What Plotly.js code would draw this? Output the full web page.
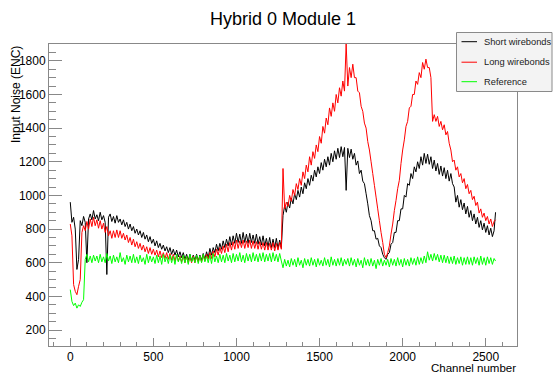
<!DOCTYPE html>
<html>
<head>
<meta charset="utf-8">
<script src="https://cdn.plot.ly/plotly-3.0.1.min.js"></script>
<style>html,body{margin:0;padding:0;background:#fff;}#plot{width:553px;height:374px;}</style>
</head>
<body>
<div id="plot"></div>
<script>
// Sampled every 10 channels (0..2550) plus last channel 2559
var lastChannel = 2559;
var shortWirebonds = [
  960,840,870,800,560,620,850,820,875,840,600,860,890,855,910,860,
  885,850,900,855,880,840,530,870,890,845,875,835,880,840,860,825,
  855,815,840,800,830,790,815,775,800,765,790,750,780,740,765,725,
  755,715,740,700,730,690,715,680,705,670,695,660,690,650,680,645,
  675,635,665,630,660,620,650,615,650,610,645,615,650,610,645,615,
  655,620,665,630,685,645,690,660,710,670,715,680,730,690,740,700,
  755,705,760,715,775,720,770,715,780,720,770,715,775,720,765,715,
  770,710,755,705,760,700,745,695,750,690,740,690,745,685,735,690,
  880,940,900,960,925,985,950,1010,975,1030,990,1050,1010,1075,1040,1100,
  1060,1120,1085,1150,1110,1170,1130,1195,1150,1215,1170,1230,1180,1250,1200,1265,
  1215,1280,1225,1290,1230,1285,1030,1280,1225,1275,1215,1250,1180,1205,1130,1150,
  1085,1070,1010,950,880,850,790,790,740,745,700,690,650,630,620,650,
  660,710,720,780,780,850,850,920,920,1000,990,1070,1060,1130,1100,1170,
  1140,1200,1160,1230,1180,1250,1190,1245,1185,1230,1160,1210,1145,1190,1125,1175,
  1115,1165,1100,1150,1085,1130,1070,1050,960,1000,930,975,915,955,890,935,
  870,910,850,890,830,870,810,850,795,835,780,820,765,805,755,790,
  900
];
var longWirebonds = [
  830,760,470,430,410,460,500,780,820,790,845,800,860,815,870,820,
  855,805,850,800,835,780,815,760,790,745,790,750,795,750,790,745,
  775,735,765,720,750,705,740,695,725,685,715,675,705,665,695,655,
  690,650,680,645,675,635,670,630,660,625,660,620,655,615,650,610,
  645,610,640,605,640,600,640,600,635,600,640,600,635,605,640,605,
  645,610,650,620,660,625,670,635,680,645,690,655,700,660,710,665,
  720,675,725,680,735,685,730,690,735,685,730,690,735,685,730,685,
  725,680,725,680,720,675,720,675,715,675,720,670,715,675,720,680,
  1160,920,960,935,1000,965,1035,1000,1070,1035,1100,1060,1140,1100,1180,1140,
  1230,1180,1260,1220,1300,1260,1350,1310,1410,1370,1460,1420,1520,1470,1550,1500,
  1600,1550,1640,1590,1680,1620,1900,1650,1760,1700,1780,1700,1700,1620,1610,1530,
  1500,1430,1400,1320,1270,1200,1130,1060,990,920,850,780,720,650,630,660,
  700,770,830,910,970,1040,1090,1190,1270,1330,1410,1440,1520,1530,1600,1600,
  1680,1660,1730,1700,1790,1750,1810,1760,1760,1700,1440,1480,1440,1470,1410,1440,
  1390,1420,1360,1380,1310,1270,1200,1210,1150,1170,1110,1130,1075,1100,1040,1065,
  1010,1030,975,995,940,960,895,920,870,895,850,875,830,860,815,845,
  855
];
var reference = [
  440,370,345,360,330,350,340,365,380,620,650,605,640,600,645,610,
  640,600,650,605,635,600,655,610,640,595,645,605,635,600,660,605,
  630,590,645,605,640,600,650,600,635,595,645,605,630,590,650,600,
  640,605,635,595,645,600,640,590,650,605,635,595,645,600,640,590,
  650,605,635,595,645,600,640,590,650,605,635,600,645,595,640,600,
  650,605,640,600,645,595,655,605,640,600,650,605,645,600,655,610,
  645,600,655,605,650,610,660,605,645,600,655,610,650,605,660,610,
  650,605,655,610,660,605,650,610,655,605,660,610,650,605,655,610,
  570,620,580,615,575,625,585,620,575,630,585,615,570,625,585,620,
  580,630,585,620,575,625,585,615,580,630,585,620,575,635,585,620,
  580,625,585,630,580,620,590,625,580,630,585,620,575,625,585,615,
  570,630,585,620,580,625,580,615,565,620,585,625,580,615,585,620,
  575,625,585,620,580,630,585,620,575,625,585,620,580,630,590,625,
  585,635,590,630,595,640,600,665,615,650,610,655,615,650,605,645,
  600,645,600,640,595,635,595,640,590,630,595,635,585,630,590,635,
  590,630,585,635,595,630,585,640,590,630,585,635,595,630,590,625,
  610
];
var seriesNames = ["Short wirebonds", "Long wirebonds", "Reference"];
var seriesColors = ["#000000", "#ff0000", "#00ff00"];

var channels = [];
for (var i = 0; i < shortWirebonds.length - 1; i++) channels.push(i * 10);
channels.push(lastChannel);

var allSeries = [shortWirebonds, longWirebonds, reference];
var traces = allSeries.map(function (vals, k) {
  return {
    x: channels, y: vals, type: "scatter", mode: "lines",
    name: seriesNames[k], line: {color: seriesColors[k], width: 1, simplify: false},
    hoverinfo: "skip", showlegend: false
  };
});

// pixel -> paper helpers (plot area: x 49..517, y 44..346)
function px(x) { return (x - 49) / 468; }
function py(y) { return (346 - y) / 302; }

var frameColor = "#888888";
var font = "Liberation Sans, Arial, Helvetica, sans-serif";

var shapes = [
  {type: "rect", xref: "paper", yref: "paper", x0: px(456.5), x1: px(552), y0: py(91.5), y1: py(32.5),
   fillcolor: "#f3f3f3", line: {color: "#8a8a8a", width: 1}, layer: "above"}
];
var annotations = [];
var legendY = [41.7, 62.2, 81.7];
for (var k = 0; k < 3; k++) {
  shapes.push({type: "line", xref: "paper", yref: "paper", x0: px(461.5), x1: px(477), y0: py(legendY[k]), y1: py(legendY[k]),
    line: {color: seriesColors[k], width: 1}, layer: "above"});
  annotations.push({xref: "paper", yref: "paper", x: px(481.5), y: py(legendY[k]), xanchor: "left", yanchor: "middle",
    text: seriesNames[k], showarrow: false, font: {family: font, size: 9.3, color: "#222"}});
}
annotations.push({xref: "paper", yref: "paper", x: px(15.5), y: py(44), xanchor: "center", yanchor: "top",
  textangle: -90, text: "Input Noise (ENC)", showarrow: false, font: {family: font, size: 12, color: "#000"}});
annotations.push({xref: "paper", yref: "paper", x: px(517), y: py(368), xanchor: "right", yanchor: "middle",
  text: "Channel number", showarrow: false, borderpad: 0, font: {family: font, size: 11.5, color: "#000"}});

var layout = {
  width: 553, height: 374,
  margin: {l: 49, r: 36, t: 44, b: 28, pad: 0},
  paper_bgcolor: "#ffffff", plot_bgcolor: "#ffffff",
  showlegend: false,
  title: {text: "Hybrid 0 Module 1", x: 0.5, xref: "paper", xanchor: "center", y: 1 - 19 / 374, yref: "container", yanchor: "middle",
    font: {family: font, size: 18, color: "#000"}},
  xaxis: {
    range: [-128, 2688], showgrid: false, zeroline: false,
    showline: true, linecolor: frameColor, linewidth: 1, mirror: true,
    ticks: "inside", ticklen: 8, tickcolor: frameColor, tickwidth: 1,
    tick0: 0, dtick: 500,
    minor: {ticks: "inside", ticklen: 4, dtick: 100, tick0: 0, tickcolor: frameColor, showgrid: false},
    tickfont: {family: font, size: 12, color: "#000"}
  },
  yaxis: {
    range: [105, 1900], showgrid: false, zeroline: false,
    showline: true, linecolor: frameColor, linewidth: 1, mirror: true,
    ticks: "inside", ticklen: 13, tickcolor: frameColor, tickwidth: 1,
    tick0: 0, dtick: 200,
    minor: {ticks: "inside", ticklen: 6.5, dtick: 50, tick0: 0, tickcolor: frameColor, showgrid: false},
    tickfont: {family: font, size: 12, color: "#000"}
  },
  shapes: shapes,
  annotations: annotations
};

Plotly.newPlot("plot", traces, layout, {staticPlot: true, displayModeBar: false});
</script>
</body>
</html>
